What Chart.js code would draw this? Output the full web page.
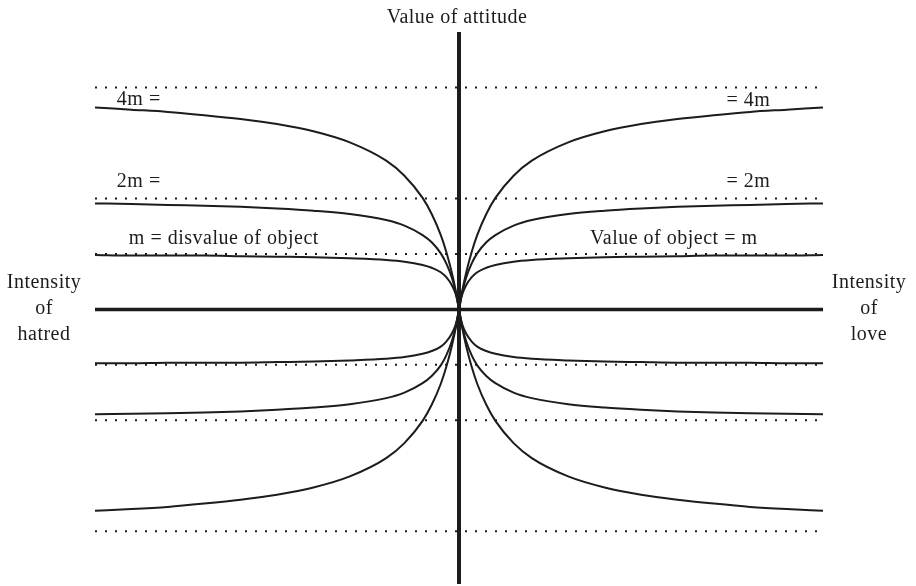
<!DOCTYPE html>
<html>
<head>
<meta charset="utf-8">
<title>Value of attitude</title>
<script src="https://cdn.jsdelivr.net/npm/chart.js@4.4.1/dist/chart.umd.min.js"></script>
<style>
    html, body { margin: 0; padding: 0; background: #fff; }
    #wrap { width: 916px; height: 586px; position: relative; }
</style>
</head>
<body>
<div id="wrap"><canvas id="attitudeChart"></canvas></div>
<script>
// Intensity (distance from the centre line)
const intensity = [0, 0.05, 0.1, 0.2, 0.35, 0.5, 0.75, 1, 1.5, 2, 3, 4, 5, 6, 7, 8, 9, 10];

// Value of attitude for each object value (in units of m)
const love4m  = [0, 0.19, 0.37, 0.67, 1.04, 1.34, 1.72, 2.01, 2.41, 2.68, 3.01, 3.21, 3.34, 3.43, 3.50, 3.56, 3.60, 3.64];
const love2m  = [0, 0.19, 0.34, 0.58, 0.83, 1.01, 1.21, 1.34, 1.51, 1.61, 1.72, 1.78, 1.82, 1.85, 1.87, 1.88, 1.90, 1.91];
const love1m  = [0, 0.17, 0.29, 0.44, 0.58, 0.67, 0.75, 0.80, 0.86, 0.89, 0.92, 0.94, 0.95, 0.96, 0.97, 0.97, 0.97, 0.98];
const below1m = [0, -0.17, -0.29, -0.44, -0.58, -0.67, -0.75, -0.80, -0.86, -0.89, -0.92, -0.94, -0.95, -0.96, -0.96, -0.96, -0.97, -0.97];
const below2m = [0, -0.19, -0.34, -0.58, -0.83, -1.01, -1.20, -1.33, -1.50, -1.60, -1.71, -1.77, -1.81, -1.84, -1.86, -1.87, -1.88, -1.89];
const below4m = [0, -0.19, -0.37, -0.67, -1.04, -1.34, -1.72, -2.01, -2.41, -2.68, -3.01, -3.21, -3.34, -3.43, -3.50, -3.56, -3.60, -3.63];

// Dotted reference levels: m, 2m, 4m above and below
const levels = [4, 2, 1, -1, -2, -4];

const INK = '#1d1b1c';
const FONT = '"Liberation Serif", "Times New Roman", serif';

function branch(values, side) {
    return {
        data: intensity.map((x, i) => ({ x: side * x, y: values[i] })),
        showLine: true,
        borderColor: INK,
        borderWidth: 2,
        pointRadius: 0,
        cubicInterpolationMode: 'monotone'
    };
}

function straight(points, width, dash) {
    return {
        data: points,
        showLine: true,
        borderColor: INK,
        borderWidth: width,
        borderDash: dash || [],
        borderCapStyle: 'butt',
        pointRadius: 0,
        tension: 0
    };
}

const datasets = [];
levels.forEach(level => {
    datasets.push(straight([{ x: -10, y: level }, { x: 10, y: level }], 2, [2, 8]));
});
[love4m, love2m, love1m, below1m, below2m, below4m].forEach(values => {
    datasets.push(branch(values, 1));
    datasets.push(branch(values, -1));
});
// axes
datasets.push(straight([{ x: -10, y: 0 }, { x: 10, y: 0 }], 3.5));
datasets.push(straight([{ x: 0, y: -4.95 }, { x: 0, y: 5 }], 4));

// Text labels drawn on the canvas
const textPlugin = {
    id: 'textLabels',
    afterDraw(chart) {
        const ctx = chart.ctx;
        const xs = chart.scales.x;
        const ys = chart.scales.y;
        ctx.save();
        ctx.fillStyle = INK;
        ctx.font = '20px ' + FONT;
        ctx.letterSpacing = '0.5px';
        ctx.textBaseline = 'alphabetic';

        // inner labels
        ctx.textAlign = 'left';
        ctx.fillText('4m =', xs.getPixelForValue(-9.4), ys.getPixelForValue(3.68));
        ctx.fillText('2m =', xs.getPixelForValue(-9.4), ys.getPixelForValue(2.2));
        ctx.fillText('m = disvalue of object', xs.getPixelForValue(-9.07), ys.getPixelForValue(1.18));
        ctx.textAlign = 'right';
        ctx.fillText('= 4m', xs.getPixelForValue(8.55), ys.getPixelForValue(3.66));
        ctx.fillText('= 2m', xs.getPixelForValue(8.55), ys.getPixelForValue(2.2));
        ctx.fillText('Value of object = m', xs.getPixelForValue(8.2), ys.getPixelForValue(1.18));

        // outer labels
        ctx.textAlign = 'center';
        ctx.fillText('Value of attitude', 457, 23);
        ctx.fillText('Intensity', 44, 288);
        ctx.fillText('of', 44, 314);
        ctx.fillText('hatred', 44, 340);
        ctx.fillText('Intensity', 869, 288);
        ctx.fillText('of', 869, 314);
        ctx.fillText('love', 869, 340);
        ctx.restore();
    }
};

new Chart(document.getElementById('attitudeChart'), {
    type: 'scatter',
    data: { datasets: datasets },
    options: {
        responsive: true,
        maintainAspectRatio: false,
        animation: false,
        layout: { padding: { left: 95, right: 93, top: 32, bottom: 2 } },
        plugins: {
            legend: { display: false },
            tooltip: { enabled: false }
        },
        scales: {
            x: { type: 'linear', min: -10, max: 10, display: false },
            y: { type: 'linear', min: -4.95, max: 5, display: false }
        }
    },
    plugins: [textPlugin]
});
</script>
</body>
</html>
